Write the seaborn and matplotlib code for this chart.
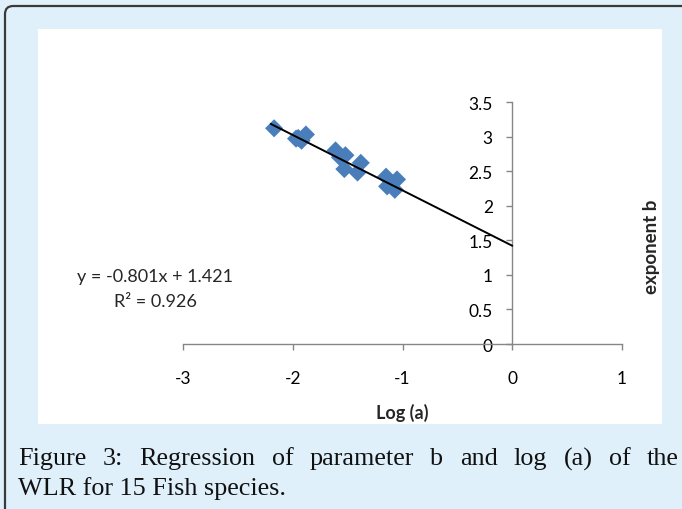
import numpy as np
import matplotlib
matplotlib.use("Agg")
import matplotlib.pyplot as plt
import seaborn as sns
import pandas as pd
from matplotlib.patches import FancyBboxPatch, Rectangle

# data (15 fish species)
log_a = [-2.17, -1.97, -1.92, -1.88, -1.95, -1.61, -1.52, -1.53, -1.57,
         -1.38, -1.41, -1.15, -1.05, -1.14, -1.07]
exp_b = [3.12, 2.97, 2.94, 3.03, 2.98, 2.80, 2.73, 2.53, 2.70,
         2.62, 2.48, 2.42, 2.38, 2.28, 2.23]

# trendline as given in the figure
slope = -0.801
intercept = 1.421
trend_x = [-2.2, 0.0]

eq_text = "y = -0.801x + 1.421"
r2_text = "R\u00b2 = 0.926"
caption1 = "Figure 3: Regression of parameter b and log (a) of the"
caption2 = "WLR for 15 Fish species."

df = pd.DataFrame({"log_a": log_a, "exp_b": exp_b})

sns.set_style("white")
plt.rcParams["font.family"] = ["Lato", "DejaVu Sans"]
plt.rcParams["axes.unicode_minus"] = False

W, H = 682, 510
fig = plt.figure(figsize=(W / 100, H / 100), dpi=100)
fig.patch.set_facecolor("#dff0fb")

# outer rounded frame and white chart area (behind the axes)
frame = FancyBboxPatch((5 / W, -0.1), 1.2, 1 - 7 / H + 0.1,
                       boxstyle="round,pad=0,rounding_size=0.012",
                       mutation_aspect=W / H, transform=fig.transFigure,
                       facecolor="none", edgecolor="#3a3a3a", lw=1.6,
                       zorder=-10)
fig.patches.append(frame)
fig.patches.append(Rectangle((38 / W, 1 - 425 / H), 624 / W, 395 / H,
                             transform=fig.transFigure, facecolor="white",
                             edgecolor="none", zorder=-10))

ax = fig.add_axes([183 / W, 1 - 345 / H, 439 / W, 242 / H])
ax.patch.set_alpha(0)

sns.scatterplot(data=df, x="log_a", y="exp_b", marker="D", s=85,
                color="#4a7ebb", edgecolor="none", ax=ax, zorder=3,
                clip_on=False)
tx = np.array(trend_x)
ax.plot(tx, slope * tx + intercept, color="black", lw=1.4, zorder=4,
        clip_on=False)

ax.set_xlim(-3, 1)
ax.set_ylim(0, 3.5)
ax.set_xticks([-3, -2, -1, 0, 1])
ax.set_yticks([0, 0.5, 1, 1.5, 2, 2.5, 3, 3.5])
ax.set_xticklabels(["-3", "-2", "-1", "0", "1"])
ax.set_yticklabels(["0", "0.5", "1", "1.5", "2", "2.5", "3", "3.5"])
ax.set_xlabel("")
ax.set_ylabel("")

for s in ["top", "right"]:
    ax.spines[s].set_visible(False)
ax.spines["left"].set_position(("data", 0))
ax.spines["bottom"].set_position(("data", 0))
for s in ["left", "bottom"]:
    ax.spines[s].set_color("#868686")
    ax.spines[s].set_linewidth(1.0)
ax.tick_params(axis="both", direction="out", length=4, width=1.0,
               color="#868686", labelsize=12.5, labelcolor="black",
               bottom=True, left=True)
ax.tick_params(axis="x", pad=15)
ax.tick_params(axis="y", pad=10)

fig.text(402 / W, 1 - 413 / H, "Log (a)", ha="center", va="center",
         fontsize=13, fontweight="bold")
fig.text(652 / W, 1 - 247 / H, "exponent b", ha="center", va="center",
         rotation=90, fontsize=13.5, fontweight="bold")
fig.text(155 / W, 1 - 277 / H, eq_text, ha="center", va="center", fontsize=13)
fig.text(155 / W, 1 - 302 / H, r2_text, ha="center", va="center", fontsize=13)

# caption, first line justified across the frame
cap_font = dict(family=["Liberation Serif"], fontsize=18.8, color="#111111")
words = caption1.split(" ")
renderer = fig.canvas.get_renderer()
objs = [fig.text(0, 1 - 459 / H, w, ha="left", va="center", **cap_font) for w in words]
widths = [o.get_window_extent(renderer).width for o in objs]
left, right = 18, 679
gap = (right - left - sum(widths)) / (len(words) - 1)
x = left
for o, w in zip(objs, widths):
    o.set_x(x / W)
    x += w + gap
fig.text(left / W, 1 - 489 / H, caption2, ha="left", va="center", **cap_font)

fig.savefig("out.png", dpi=100, facecolor=fig.get_facecolor())
